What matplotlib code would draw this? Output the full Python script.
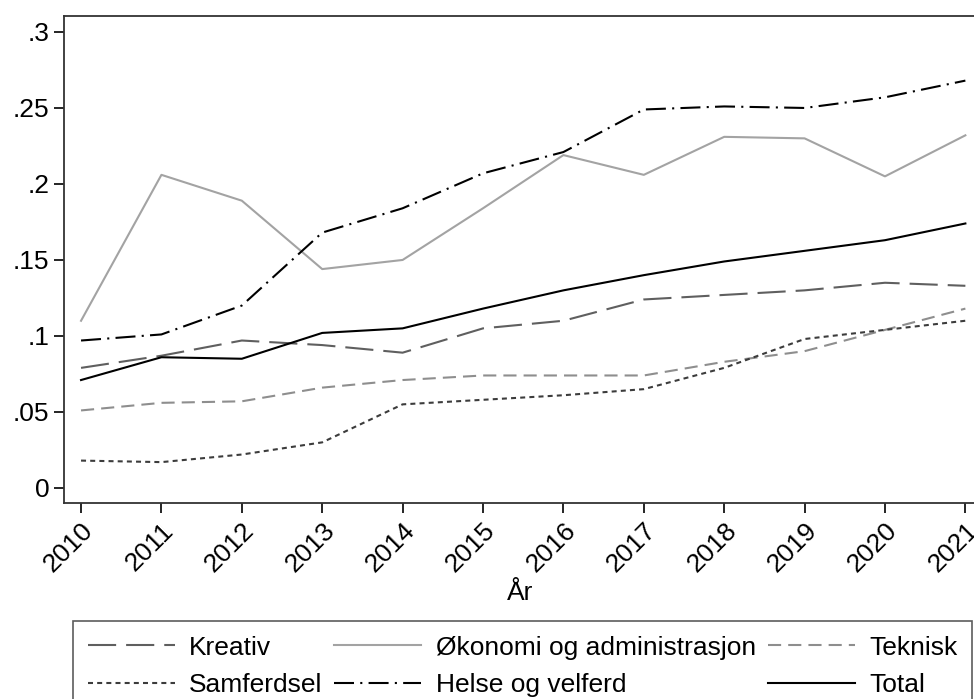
import matplotlib
matplotlib.use("Agg")
import matplotlib.pyplot as plt

plt.rcParams['font.family'] = ['Liberation Sans', 'DejaVu Sans']

# Data
years = list(range(2010, 2022))
kreativ = [0.079, 0.087, 0.097, 0.094, 0.089, 0.105, 0.110, 0.124, 0.127, 0.130, 0.135, 0.133]
okonomi = [0.110, 0.206, 0.189, 0.144, 0.150, 0.184, 0.219, 0.206, 0.231, 0.230, 0.205, 0.232]
teknisk = [0.051, 0.056, 0.057, 0.066, 0.071, 0.074, 0.074, 0.074, 0.083, 0.090, 0.104, 0.118]
samferdsel = [0.018, 0.017, 0.022, 0.030, 0.055, 0.058, 0.061, 0.065, 0.079, 0.098, 0.104, 0.110]
helse = [0.097, 0.101, 0.120, 0.168, 0.184, 0.207, 0.221, 0.249, 0.251, 0.250, 0.257, 0.268]
total = [0.071, 0.086, 0.085, 0.102, 0.105, 0.118, 0.130, 0.140, 0.149, 0.156, 0.163, 0.174]

yticks = [0, 0.05, 0.1, 0.15, 0.2, 0.25, 0.3]
ytick_labels = ['0', '.05', '.1', '.15', '.2', '.25', '.3']

fs = 19

fig = plt.figure(figsize=(9.74, 6.99), dpi=100)
ax = fig.add_axes([0.0657, 0.2804, 0.937, 0.6967])

lw = 1.5
l_kre, = ax.plot(years, kreativ, color='#5f5f5f', lw=lw, dashes=(13.5, 4.8), label='Kreativ')
l_oko, = ax.plot(years, okonomi, color='#a3a3a3', lw=lw, label='Økonomi og administrasjon')
l_tek, = ax.plot(years, teknisk, color='#8e8e8e', lw=lw, dashes=(6.3, 3.4), label='Teknisk')
l_sam, = ax.plot(years, samferdsel, color='#3c3c3c', lw=lw, dashes=(2.4, 2.0), label='Samferdsel')
l_hel, = ax.plot(years, helse, color='black', lw=lw, dashes=(9.6, 3, 1, 3), label='Helse og velferd')
l_tot, = ax.plot(years, total, color='black', lw=lw, label='Total')

ax.set_xlim(2009.788, 2021.14)
ax.set_ylim(-0.0099, 0.3105)
ax.set_xticks(years)
ax.set_xticklabels([str(y) for y in years], rotation=45, ha='right', rotation_mode='anchor', fontsize=fs)
ax.set_yticks(yticks)
ax.set_yticklabels(ytick_labels, fontsize=fs)
ax.tick_params(axis='both', direction='out', length=7, width=1.2, color='black')
ax.tick_params(axis='x', pad=4)
for s in ax.spines.values():
    s.set_linewidth(1.3)
    s.set_color('#333333')
ax.set_xlabel('År', fontsize=fs, labelpad=3)

# Legend filled column-wise so rows read Kreativ/Økonomi/Teknisk, Samferdsel/Helse/Total
handles = [l_kre, l_sam, l_oko, l_hel, l_tek, l_tot]
leg = fig.legend(handles=handles, labels=[h.get_label() for h in handles],
                 loc='upper left', bbox_to_anchor=(0.075, 0.0, 0.923, 0.1116),
                 mode='expand', ncol=3, fontsize=fs, frameon=True, fancybox=False,
                 edgecolor='#333333', handlelength=3.3, handletextpad=0.55,
                 labelspacing=0.52, borderaxespad=0, borderpad=0.55, columnspacing=0.5)
leg.get_frame().set_linewidth(1.2)

fig.savefig('out.png', dpi=100)
